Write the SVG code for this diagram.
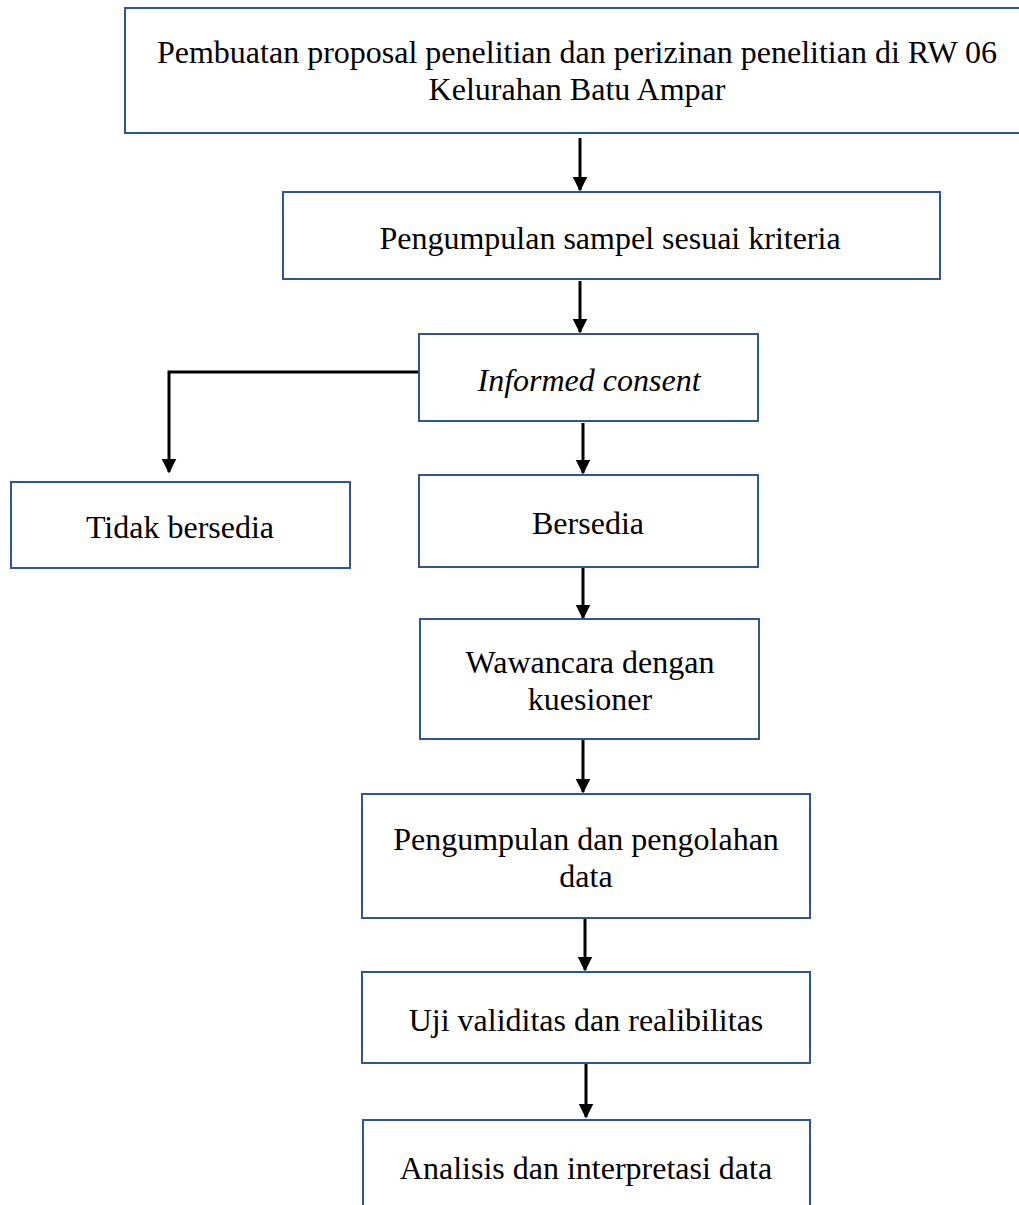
<svg xmlns="http://www.w3.org/2000/svg" width="1019" height="1205" viewBox="0 0 1019 1205">
<defs>
<marker id="ah" markerWidth="5" markerHeight="5.5" refX="4.5" refY="2.5" orient="auto" markerUnits="strokeWidth">
<path d="M0,0 L5,2.5 L0,5 Z" fill="#000"/>
</marker>
<style>
.box{fill:#fff;stroke:#2F5597;stroke-width:2}
.t{font-family:"Liberation Serif","Times New Roman",serif;font-size:32px;fill:#000;text-anchor:middle}
.c{fill:none;stroke:#000;stroke-width:3;marker-end:url(#ah)}
</style>
</defs>
<rect width="1019" height="1205" fill="#fff"/>
<g id="connectors">
<path class="c" d="M580,138 V190"/>
<path class="c" d="M580,281 V332"/>
<path class="c" d="M419,372 H169 V472"/>
<path class="c" d="M583,423 V473"/>
<path class="c" d="M583,568 V618"/>
<path class="c" d="M583,740 V792"/>
<path class="c" d="M585,919 V970"/>
<path class="c" d="M586,1064 V1117"/>
</g>
<g id="n1"><rect class="box" x="125" y="8" width="910" height="125"/>
<text class="t" x="577" y="63">Pembuatan proposal penelitian dan perizinan penelitian di RW 06</text>
<text class="t" x="577" y="100">Kelurahan Batu Ampar</text></g>
<g id="n2"><rect class="box" x="283" y="192" width="657" height="87"/>
<text class="t" x="610" y="249">Pengumpulan sampel sesuai kriteria</text></g>
<g id="n3"><rect class="box" x="419" y="334" width="339" height="87"/>
<text class="t" x="589" y="391" font-style="italic">Informed consent</text></g>
<g id="n4"><rect class="box" x="11" y="482" width="339" height="86"/>
<text class="t" x="180" y="538">Tidak bersedia</text></g>
<g id="n5"><rect class="box" x="419" y="475" width="339" height="92"/>
<text class="t" x="588" y="534">Bersedia</text></g>
<g id="n6"><rect class="box" x="420" y="619" width="339" height="120"/>
<text class="t" x="590" y="673">Wawancara dengan</text>
<text class="t" x="590" y="710">kuesioner</text></g>
<g id="n7"><rect class="box" x="362" y="794" width="448" height="124"/>
<text class="t" x="586" y="850">Pengumpulan dan pengolahan</text>
<text class="t" x="586" y="887">data</text></g>
<g id="n8"><rect class="box" x="362" y="972" width="448" height="91"/>
<text class="t" x="586" y="1031">Uji validitas dan realibilitas</text></g>
<g id="n9"><rect class="box" x="363" y="1120" width="447" height="100"/>
<text class="t" x="586" y="1179">Analisis dan interpretasi data</text></g>
</svg>
